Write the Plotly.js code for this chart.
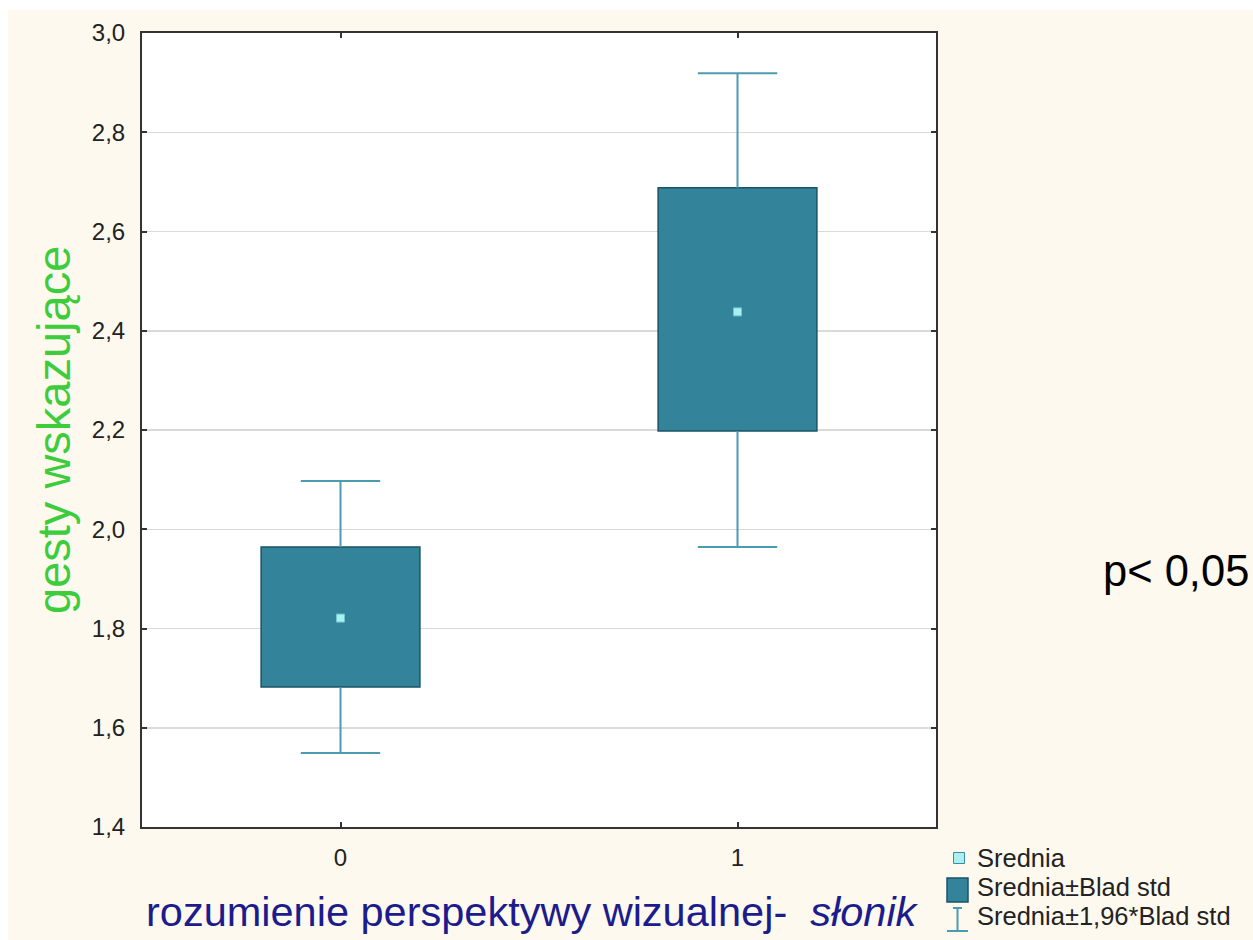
<!DOCTYPE html>
<html>
<head>
<meta charset="utf-8">
<script src="https://cdn.plot.ly/plotly-3.0.1.min.js"></script>
<style>
  html, body { margin: 0; padding: 0; background: #ffffff; }
  #chart { position: absolute; left: 8px; top: 10px; width: 1245px; height: 930px; }
</style>
</head>
<body>
<div id="chart"></div>
<script>
// ---- data ----
const categories = ['0', '1'];
const means      = [1.821, 2.438];
const seLow      = [1.682, 2.198];   // Srednia - Blad std
const seHigh     = [1.964, 2.688];   // Srednia + Blad std
const ciLow      = [1.549, 1.964];   // Srednia - 1,96*Blad std
const ciHigh     = [2.097, 2.919];   // Srednia + 1,96*Blad std
const yTickVals  = [1.4, 1.6, 1.8, 2.0, 2.2, 2.4, 2.6, 2.8, 3.0];
const legendLabels = ['Srednia', 'Srednia±Blad std', 'Srednia±1,96*Blad std'];

// ---- styles ----
const boxFill = '#33839b', boxLine = '#1b5368', whiskerCol = '#4b9bb2';
const meanFill = '#aaf0f0', meanLine = '#6fc6d0';
const boxWidth = 0.4, capHalf = 0.1;
const FONT = 'Liberation Sans, Arial, sans-serif';

const xIdx = categories.map((c, i) => i);

// whiskers (vertical parts + caps), built from the data
const wx = [], wy = [];
xIdx.forEach((x, i) => {
  wx.push(x, x, null, x, x, null);
  wy.push(seHigh[i], ciHigh[i], null, seLow[i], ciLow[i], null);
  wx.push(x - capHalf, x + capHalf, null, x - capHalf, x + capHalf, null);
  wy.push(ciHigh[i], ciHigh[i], null, ciLow[i], ciLow[i], null);
});

const traces = [
  {
    type: 'scatter', mode: 'lines', x: wx, y: wy,
    line: { color: whiskerCol, width: 2 }, hoverinfo: 'skip', showlegend: false
  },
  {
    type: 'bar', x: xIdx, base: seLow,
    y: seHigh.map((h, i) => h - seLow[i]),
    width: boxWidth,
    marker: { color: boxFill, line: { color: boxLine, width: 1.5 } },
    showlegend: false
  },
  {
    type: 'scatter', mode: 'markers', x: xIdx, y: means,
    marker: { symbol: 'square', size: 8, color: meanFill, line: { color: meanLine, width: 1 } },
    showlegend: false
  }
];

// ---- layout geometry (div pixels -> paper) ----
const W = 1245, H = 930;
const mL = 134, mT = 23, plotW = 794, plotH = 794;
const mR = W - mL - plotW, mB = H - mT - plotH;
const px = p => (p - mL) / plotW;
const py = p => 1 - (p - mT) / plotH;

const shapes = [
  // legend: mean symbol
  { type: 'rect', xref: 'paper', yref: 'paper', x0: px(945.5), x1: px(956.5), y0: py(853.5), y1: py(842.5),
    fillcolor: meanFill, line: { color: '#3a8fa5', width: 1 } },
  // legend: box symbol
  { type: 'rect', xref: 'paper', yref: 'paper', x0: px(939), x1: px(960), y0: py(892), y1: py(868),
    fillcolor: boxFill, line: { color: boxLine, width: 1.5 } },
  // legend: I-beam symbol
  { type: 'line', xref: 'paper', yref: 'paper', x0: px(949.5), x1: px(949.5), y0: py(898), y1: py(921),
    line: { color: whiskerCol, width: 2 } },
  { type: 'line', xref: 'paper', yref: 'paper', x0: px(945), x1: px(954), y0: py(898), y1: py(898),
    line: { color: whiskerCol, width: 2 } },
  { type: 'line', xref: 'paper', yref: 'paper', x0: px(939), x1: px(960), y0: py(921), y1: py(921),
    line: { color: whiskerCol, width: 2 } }
];

const legendRowsY = [848, 877, 906];
const annotations = legendLabels.map((t, i) => ({
  xref: 'paper', yref: 'paper', x: px(967), y: py(legendRowsY[i]),
  xanchor: 'left', yanchor: 'middle', showarrow: false, text: t,
  font: { family: FONT, size: 25.5, color: '#222222' }
}));

annotations.push(
  { xref: 'paper', yref: 'paper', x: px(524), y: py(901), xanchor: 'center', yanchor: 'middle',
    showarrow: false, text: 'rozumienie perspektywy wizualnej-&nbsp; <i>słonik</i>',
    font: { family: FONT, size: 41.5, color: '#1c1c8c' } },
  { xref: 'paper', yref: 'paper', x: px(45), y: py(420), xanchor: 'center', yanchor: 'middle',
    showarrow: false, textangle: -90, text: 'gesty wskazujące',
    font: { family: FONT, size: 47, color: '#3ccc3c' } },
  { xref: 'paper', yref: 'paper', x: px(1093), y: py(561), xanchor: 'left', yanchor: 'middle',
    showarrow: false, text: 'p< 0,05',
    font: { family: FONT, size: 43.5, color: '#000000' } }
);

const axisCommon = {
  showline: true, linecolor: '#333333', linewidth: 2, mirror: 'allticks',
  ticks: 'inside', ticklen: 5, tickwidth: 2, tickcolor: '#333333',
  zeroline: false, automargin: false,
  tickfont: { family: FONT, size: 24, color: '#222222' }
};

const layout = {
  width: W, height: H,
  margin: { l: mL, r: mR, t: mT, b: mB, pad: 0 },
  paper_bgcolor: '#fdf9ef', plot_bgcolor: '#ffffff',
  separators: ',.',
  showlegend: false,
  bargap: 0,
  xaxis: Object.assign({}, axisCommon, {
    type: 'linear', range: [-0.5, 1.5], tickvals: xIdx, ticktext: categories,
    showgrid: false, ticklabelstandoff: 8
  }),
  yaxis: Object.assign({}, axisCommon, {
    range: [1.4, 3.0], tickvals: yTickVals, tickformat: '.1f',
    showgrid: true, gridcolor: '#dadada', gridwidth: 1.5, ticklabelstandoff: 10
  }),
  shapes: shapes,
  annotations: annotations
};

Plotly.newPlot('chart', traces, layout, { staticPlot: true, displayModeBar: false });
</script>
</body>
</html>
